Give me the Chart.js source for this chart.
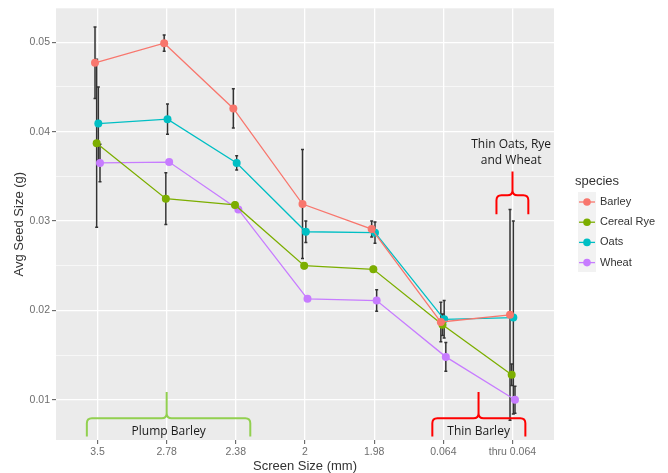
<!DOCTYPE html>
<html>
<head>
<meta charset="utf-8">
<script src="https://cdn.jsdelivr.net/npm/chart.js@4/dist/chart.umd.min.js"></script>
<style>
  html, body { margin: 0; padding: 0; background: #fff; }
  #wrap { width: 668px; height: 473px; position: relative; }
</style>
</head>
<body>
<div id="wrap"><canvas id="seedchart"></canvas></div>
<script>
/* global Chart*/
'use strict';

// data
var screenSizes = ['3.5', '2.78', '2.38', '2', '1.98', '0.064', 'thru 0.064'];
var species = ['Barley', 'Cereal Rye', 'Oats', 'Wheat'];

var barley = [0.0477, 0.0499, 0.0426, 0.0319, 0.0291, 0.0187, 0.0195];
var cerealRye = [0.0387, 0.0325, 0.0318, 0.0250, 0.0246, 0.0184, 0.0128];
var oats = [0.0409, 0.0414, 0.0365, 0.0288, 0.0287, 0.0190, 0.0192];
var wheat = [0.0365, 0.0366, 0.0313, 0.0213, 0.0211, 0.0148, 0.0100];

// +/- error
var barleyErr = [0.0040, 0.0009, 0.0022, 0.0061, 0.0009, 0.0022, 0.0118];
var cerealRyeErr = [0.0094, 0.0029, 0.0003, 0.0003, 0.0003, 0.0012, 0.0012];
var oatsErr = [0.0041, 0.0017, 0.0008, 0.0012, 0.0012, 0.0021, 0.0108];
var wheatErr = [0.0021, 0.0002, 0.0002, 0.0002, 0.0012, 0.0016, 0.0015];

var yTicks = [0.01, 0.015, 0.02, 0.025, 0.03, 0.035, 0.04, 0.045, 0.05];

var values = [barley, cerealRye, oats, wheat];
var errors = [barleyErr, cerealRyeErr, oatsErr, wheatErr];
var colors = ['#F8766D', '#7CAE00', '#00BFC4', '#C77CFF'];

var dodge = 0.024;
var tickFont = { family: 'Liberation Sans, Arial, sans-serif', size: 10.5 };

// braces drawn on top, in data units
var braces = [
  { x1: -0.154, xm: 1.0, x2: 2.209, top: 0.01086, mid: 0.00793, bottom: 0.0059, color: '#92D050' },
  { x1: 4.841, xm: 5.509, x2: 6.186, top: 0.01086, mid: 0.00793, bottom: 0.0059, color: '#FF0000' },
  { x1: 5.768, xm: 6.0, x2: 6.229, top: 0.03553, mid: 0.03287, bottom: 0.03077, color: '#FF0000' }
];
var notes = [
  { text: ['Plump Barley'], x: 1.03, y: 0.00649 },
  { text: ['Thin Barley'], x: 5.51, y: 0.00649 },
  { text: ['Thin Oats, Rye', 'and Wheat'], x: 5.98, y: 0.0386 }
];

var datasets = species.map(function (name, k) {
  return {
    label: name,
    data: values[k].map(function (v, i) {
      return { x: i + dodge * (k - 1.5), y: v };
    }),
    err: errors[k],
    borderColor: colors[k],
    backgroundColor: colors[k],
    borderWidth: 1.3,
    pointRadius: 4,
    pointBorderWidth: 0,
    pointHoverRadius: 4,
    tension: 0
  };
});

var panelPlugin = {
  id: 'panel',
  beforeDraw: function (chart) {
    var a = chart.chartArea;
    var c = chart.ctx;
    c.save();
    c.fillStyle = '#EBEBEB';
    c.fillRect(a.left, a.top, a.right - a.left, a.bottom - a.top);
    c.restore();
  }
};

var errorBarPlugin = {
  id: 'errorBars',
  beforeDatasetsDraw: function (chart) {
    var c = chart.ctx;
    var xs = chart.scales.x;
    var ys = chart.scales.y;
    c.save();
    c.strokeStyle = '#333333';
    c.lineWidth = 1.5;
    chart.data.datasets.forEach(function (ds) {
      ds.data.forEach(function (p, i) {
        var e = ds.err[i];
        var px = xs.getPixelForValue(p.x);
        var hi = ys.getPixelForValue(p.y + e);
        var lo = ys.getPixelForValue(p.y - e);
        c.beginPath();
        c.moveTo(px, hi);
        c.lineTo(px, lo);
        c.moveTo(px - 1.5, hi);
        c.lineTo(px + 1.5, hi);
        c.moveTo(px - 1.5, lo);
        c.lineTo(px + 1.5, lo);
        c.stroke();
      });
    });
    c.restore();
  }
};

function drawBrace(c, b, xs, ys) {
  var x1 = xs.getPixelForValue(b.x1);
  var x2 = xs.getPixelForValue(b.x2);
  var xm = xs.getPixelForValue(b.xm);
  var yt = ys.getPixelForValue(b.top);
  var ymid = ys.getPixelForValue(b.mid);
  var yb = ys.getPixelForValue(b.bottom);
  var r = 5;
  c.save();
  c.strokeStyle = b.color;
  c.lineWidth = 2;
  c.beginPath();
  c.moveTo(x1, yb);
  c.lineTo(x1, ymid + r);
  c.quadraticCurveTo(x1, ymid, x1 + r, ymid);
  c.lineTo(xm - r, ymid);
  c.quadraticCurveTo(xm, ymid, xm, ymid - r);
  c.lineTo(xm, yt);
  c.moveTo(xm, ymid - r);
  c.quadraticCurveTo(xm, ymid, xm + r, ymid);
  c.lineTo(x2 - r, ymid);
  c.quadraticCurveTo(x2, ymid, x2, ymid + r);
  c.lineTo(x2, yb);
  c.stroke();
  c.restore();
}

var extrasPlugin = {
  id: 'extras',
  afterDraw: function (chart) {
    var c = chart.ctx;
    var xs = chart.scales.x;
    var ys = chart.scales.y;
    var a = chart.chartArea;

    braces.forEach(function (b) { drawBrace(c, b, xs, ys); });

    c.save();
    c.fillStyle = '#1a1a1a';
    c.font = '12px "Open Sans", "Noto Sans", sans-serif';
    c.textAlign = 'center';
    c.textBaseline = 'middle';
    notes.forEach(function (n) {
      var px = xs.getPixelForValue(n.x);
      var py = ys.getPixelForValue(n.y);
      n.text.forEach(function (line, j) {
        c.fillText(line, px, py + j * 16);
      });
    });
    c.restore();

    // axis titles
    c.save();
    c.fillStyle = '#333333';
    c.font = '13px "Liberation Sans", Arial, sans-serif';
    c.textAlign = 'center';
    c.textBaseline = 'middle';
    c.fillText('Screen Size (mm)', (a.left + a.right) / 2, 466);
    c.translate(19, (a.top + a.bottom) / 2);
    c.rotate(-Math.PI / 2);
    c.fillText('Avg Seed Size (g)', 0, 0);
    c.restore();

    // legend
    c.save();
    c.textBaseline = 'middle';
    c.textAlign = 'left';
    c.fillStyle = '#333333';
    c.font = '13px "Liberation Sans", Arial, sans-serif';
    c.fillText('species', 575, 181);
    c.fillStyle = '#F2F2F2';
    c.fillRect(578, 192, 18, 80);
    chart.data.datasets.forEach(function (ds, k) {
      var ky = 202 + k * 20.2;
      c.strokeStyle = ds.borderColor;
      c.lineWidth = 1.3;
      c.beginPath();
      c.moveTo(579, ky);
      c.lineTo(595, ky);
      c.stroke();
      c.fillStyle = ds.backgroundColor;
      c.beginPath();
      c.arc(587, ky, 3.8, 0, Math.PI * 2);
      c.fill();
      c.fillStyle = '#333333';
      c.font = '11px "Liberation Sans", Arial, sans-serif';
      c.fillText(ds.label, 600, ky);
    });
    c.restore();
  }
};

new Chart(document.getElementById('seedchart'), {
  type: 'line',
  data: { datasets: datasets },
  plugins: [panelPlugin, errorBarPlugin, extrasPlugin],
  options: {
    responsive: true,
    maintainAspectRatio: false,
    animation: false,
    events: [],
    layout: { padding: { left: 0, right: 114, top: 4, bottom: 0 } },
    plugins: {
      legend: { display: false },
      tooltip: { enabled: false }
    },
    scales: {
      x: {
        type: 'linear',
        min: -0.6,
        max: 6.6,
        afterBuildTicks: function (scale) {
          scale.ticks = screenSizes.map(function (s, i) { return { value: i }; });
        },
        afterFit: function (scale) { scale.height = 33; },
        ticks: {
          autoSkip: false,
          maxRotation: 0,
          padding: 2,
          color: '#6e6e6e',
          font: tickFont,
          callback: function (v) { return screenSizes[v]; }
        },
        grid: {
          color: '#FFFFFF',
          lineWidth: 1.3,
          tickLength: 4,
          tickColor: '#555555',
          tickWidth: 1
        },
        border: { display: false }
      },
      y: {
        type: 'linear',
        min: 0.0055,
        max: 0.0538,
        afterBuildTicks: function (scale) {
          scale.ticks = yTicks.map(function (v) { return { value: v }; });
        },
        afterFit: function (scale) { scale.width = 56; },
        ticks: {
          padding: 2,
          color: '#6e6e6e',
          font: tickFont,
          callback: function (v) {
            var major = Math.abs(v * 100 - Math.round(v * 100)) < 1e-6;
            return major ? v.toFixed(2) : '';
          }
        },
        grid: {
          color: '#FFFFFF',
          lineWidth: function (ctx) {
            var v = ctx.tick ? ctx.tick.value : 0;
            return Math.abs(v * 100 - Math.round(v * 100)) < 1e-6 ? 1.3 : 0.6;
          },
          tickLength: 4,
          tickColor: function (ctx) {
            var v = ctx.tick ? ctx.tick.value : 0;
            return Math.abs(v * 100 - Math.round(v * 100)) < 1e-6 ? '#555555' : 'rgba(0,0,0,0)';
          },
          tickWidth: 1
        },
        border: { display: false }
      }
    }
  }
});
</script>
</body>
</html>
